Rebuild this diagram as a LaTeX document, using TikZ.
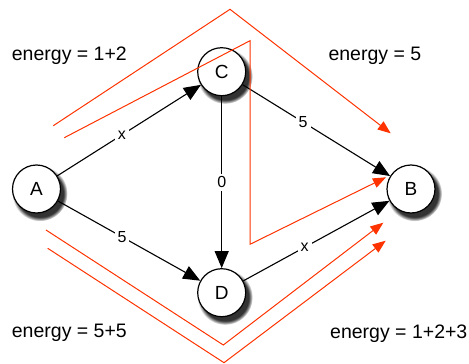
\documentclass[tikz,border=0pt]{standalone}
\usepackage{fontspec}
\setmainfont{Liberation Sans}
\usetikzlibrary{arrows.meta,shadows}
\definecolor{pathred}{RGB}{255,51,0}
\tikzset{
  vertex/.style={circle, draw=black, line width=1.2pt, fill=white, minimum size=48pt, inner sep=0pt,
    font=\fontsize{19}{22}\selectfont,
    circular drop shadow={shadow xshift=3pt, shadow yshift=-4pt, shadow scale=1.15, fill=black!80}},
  edge/.style={line width=1.1pt, -{Triangle[length=17pt,width=14pt]}},
  elabel/.style={fill=white, inner sep=3pt, font=\fontsize{16}{19}\selectfont},
  route/.style={draw=pathred, line width=1pt, -{Triangle[length=13pt,width=10pt]}},
  energy/.style={anchor=base west, inner sep=0pt, font=\fontsize{19.5}{23}\selectfont}
}
\begin{document}
\begin{tikzpicture}[x=1pt,y=-1pt]
\useasboundingbox (0,0) rectangle (469,364);
% route coordinates
\coordinate (r1s) at (53.3,125.7);
\coordinate (r1m) at (230,9.3);
\coordinate (r1e) at (390.7,133.3);
\coordinate (r2s) at (64.3,137.7);
\coordinate (r2a) at (250,40.7);
\coordinate (r2b) at (250,244.3);
\coordinate (r2e) at (386,177.3);
\coordinate (r3s) at (46,230);
\coordinate (r3m) at (223.3,345);
\coordinate (r3e) at (383.3,222.7);
\coordinate (r4s) at (47.7,248.3);
\coordinate (r4m) at (224,362.7);
\coordinate (r4e) at (385.7,240.7);
% nodes
\node[vertex] (A) at (36.5,189) {A};
\node[vertex] (C) at (221.7,71.7) {C};
\node[vertex] (D) at (221.7,292.7) {D};
\node[vertex] (B) at (411,189) {B};
% edges
\draw[edge] (A) -- node[elabel, pos=0.45] {x} (C);
\draw[edge] (A) -- node[elabel, pos=0.45] {5} (D);
\draw[edge] (C) -- node[elabel, pos=0.5] {0} (D);
\draw[edge] (C) -- node[elabel, pos=0.41] {5} (B);
\draw[edge] (D) -- node[elabel, pos=0.42] {x} (B);
% routes
\draw[route] (r1s) -- (r1m) -- (r1e);
\draw[route] (r2s) -- (r2a) -- (r2b) -- (r2e);
\draw[route] (r3s) -- (r3m) -- (r3e);
\draw[route] (r4s) -- (r4m) -- (r4e);
% energy labels
\node[energy] (e1) at (11.7,60) {energy = 1+2};
\node[energy] (e2) at (328.3,60) {energy = 5};
\node[energy] (e3) at (11.7,337.7) {energy = 5+5};
\node[energy] (e4) at (330,338) {energy = 1+2+3};
\end{tikzpicture}
\end{document}
